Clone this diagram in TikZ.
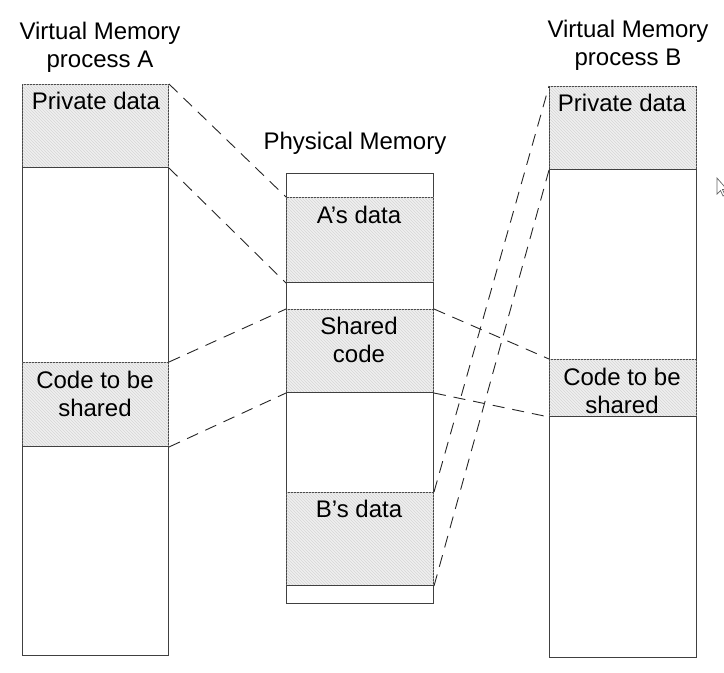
\documentclass[tikz,border=0pt]{standalone}
\usepackage{fontspec}
\setmainfont{Liberation Sans}
\usetikzlibrary{patterns}
\begin{document}
\begin{tikzpicture}[x=1pt,y=-1pt,
  seg/.style={draw=black!75, line width=1pt, inner sep=0pt, anchor=north west},
  plain/.style={seg, fill=white},
  shaded/.style={seg, fill=gray!12, postaction={pattern=north west lines, pattern color=gray!32}},
  lbl/.style={font=\fontsize{24}{28}\selectfont, align=center, inner sep=0pt, text=black},
  conn/.style={draw=black!85, line width=0.9pt, dash pattern=on 12pt off 8pt}]
\useasboundingbox (0,0) rectangle (724,673);
% process A
\node[shaded, minimum width=146pt, minimum height=83pt] (aPriv) at (22,84) {};
\node[plain,  minimum width=146pt, minimum height=195pt] (aMid) at (22,167) {};
\node[shaded, minimum width=146pt, minimum height=84pt] (aCode) at (22,362) {};
\node[plain,  minimum width=146pt, minimum height=209pt] (aLow) at (22,446) {};
% physical
\node[plain,  minimum width=147pt, minimum height=24pt] (pTop) at (286,173) {};
\node[shaded, minimum width=147pt, minimum height=85pt] (pA) at (286,197) {};
\node[plain,  minimum width=147pt, minimum height=27pt] (pGap) at (286,282) {};
\node[shaded, minimum width=147pt, minimum height=83pt] (pShared) at (286,309) {};
\node[plain,  minimum width=147pt, minimum height=100pt] (pMid) at (286,392) {};
\node[shaded, minimum width=147pt, minimum height=93pt] (pB) at (286,492) {};
\node[plain,  minimum width=147pt, minimum height=18pt] (pBot) at (286,585) {};
% process B
\node[shaded, minimum width=147pt, minimum height=83pt] (bPriv) at (549,86) {};
\node[plain,  minimum width=147pt, minimum height=190pt] (bMid) at (549,169) {};
\node[shaded, minimum width=147pt, minimum height=57pt] (bCode) at (549,359) {};
\node[plain,  minimum width=147pt, minimum height=241pt] (bLow) at (549,416) {};
% titles
\node[lbl] (tA) at (100,47) {Virtual Memory\\process A};
\node[lbl] (tP) at (355,143) {Physical Memory};
\node[lbl] (tB) at (628,45) {Virtual Memory\\process B};
% labels
\node[lbl] (laPriv) at (96,101) {Private data};
\node[lbl] (laCode) at (95,394) {Code to be\\shared};
\node[lbl] (lpA) at (359,215) {A’s data};
\node[lbl] (lpS) at (359,340) {Shared\\code};
\node[lbl] (lpB) at (359,509) {B’s data};
\node[lbl] (lbPriv) at (622,103) {Private data};
\node[lbl] (lbCode) at (622,391) {Code to be\\shared};
% connectors
\draw[conn] (aPriv.north east) -- (pA.north west);
\draw[conn] (aPriv.south east) -- (pA.south west);
\draw[conn] (aCode.north east) -- (pShared.north west);
\draw[conn] (aCode.south east) -- (pShared.south west);
\draw[conn] (pShared.north east) -- (bCode.north west);
\draw[conn] (pShared.south east) -- (bCode.south west);
\draw[conn] (pB.north east) -- (bPriv.north west);
\draw[conn] (pB.south east) -- (bPriv.south west);
% cursor
\draw[black!60, line width=0.7pt, fill=white] (717,178) -- (717,194) -- (720.5,190.5) -- (723,196) -- (725,195) -- (722.5,189.5) -- (727,189.5) -- cycle;
\end{tikzpicture}
\end{document}
